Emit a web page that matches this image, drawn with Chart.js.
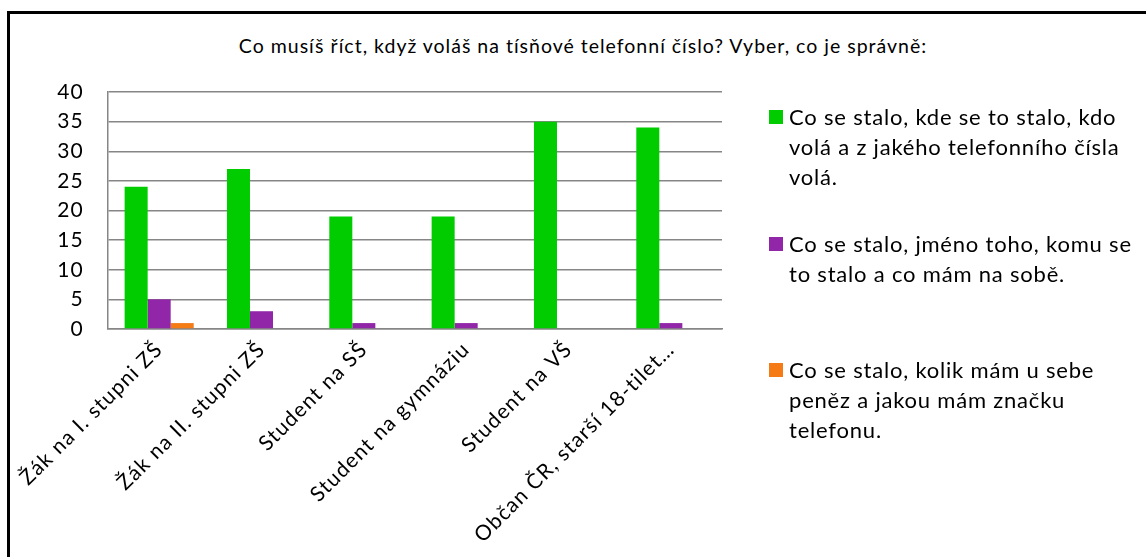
<!DOCTYPE html>
<html>
<head>
<meta charset="utf-8">
<script src="https://cdn.jsdelivr.net/npm/chart.js@4"></script>
<style>
  html, body { margin:0; padding:0; background:#fff; overflow:hidden; }
  #wrap { position:relative; width:1146px; height:557px; overflow:hidden; }
  #frame { position:absolute; left:7px; top:11px; width:1300px; height:700px; border:3px solid #000; box-sizing:border-box; }
  #title { position:absolute; left:0; width:1166px; top:34px; text-align:center; font-family:Lato, sans-serif; font-size:19.5px; letter-spacing:1px; color:#000; }
  #chartBox { position:absolute; left:0; top:0; width:1146px; height:557px; }
  #legend { position:absolute; left:769px; top:0; width:385px; font-family:Lato, sans-serif; font-size:22px; letter-spacing:0.8px; line-height:30px; color:#000; }
  .lg-item { position:absolute; left:0; width:365px; padding-left:20px; }
  .lg-box { position:absolute; left:0; top:8px; width:14px; height:14px; }
</style>
</head>
<body>
<div id="wrap">
  <div id="frame"></div>
  <div id="title">Co musíš říct, když voláš na tísňové telefonní číslo? Vyber, co je správně:</div>
  <div id="chartBox"><canvas id="chart"></canvas></div>
  <div id="legend"></div>
</div>
<script>
// ---- data ----
const categories = ['Žák na I. stupni ZŠ', 'Žák na II. stupni ZŠ', 'Student na SŠ', 'Student na gymnáziu', 'Student na VŠ', 'Občan ČR, starší 18-tilet…'];
const seriesNames = [
  'Co se stalo, kde se to stalo, kdo volá a z jakého telefonního čísla volá.',
  'Co se stalo, jméno toho, komu se to stalo a co mám na sobě.',
  'Co se stalo, kolik mám u sebe peněz a jakou mám značku telefonu.'
];
const correctAnswer = [24, 27, 19, 19, 35, 34];
const nameAndClothes = [5, 3, 1, 1, 0, 1];
const moneyAndPhone = [1, 0, 0, 0, 0, 0];
const yTicks = [0, 5, 10, 15, 20, 25, 30, 35, 40];

const colors = ['#00CC00', '#9126A8', '#F47B16'];
const legendTops = [102, 229, 355];

// popisky osy x jsou v originale dost roztazene
const spacing = {
  id: 'spacing',
  beforeDraw: c => { c.ctx.letterSpacing = '1.2px'; }
};

const ctx = document.getElementById('chart').getContext('2d');
const chart = new Chart(ctx, {
  type: 'bar',
  data: {
    labels: categories,
    datasets: [correctAnswer, nameAndClothes, moneyAndPhone].map((d, i) => ({
      label: seriesNames[i], data: d, backgroundColor: colors[i], borderWidth: 0,
      categoryPercentage: 0.675, barPercentage: 1
    }))
  },
  options: {
    responsive: true, maintainAspectRatio: false, animation: false,
    layout: { padding: { left: 40, right: 424, top: 92, bottom: 0 } },
    plugins: { legend: { display: false }, title: { display: false }, tooltip: { enabled: false } },
    scales: {
      x: {
        grid: { display: false, drawTicks: false },
        border: { display: true, color: '#868686', width: 1.5 },
        ticks: { autoSkip: false, minRotation: 45, maxRotation: 45, padding: 8,
                 color: '#000', font: { family: 'Lato', size: 21 } },
        afterFit: s => { s.height = 228; }
      },
      y: {
        min: 0, max: 40,
        afterBuildTicks: s => { s.ticks = yTicks.map(v => ({ value: v })); },
        grid: { color: '#868686', lineWidth: 1.5, drawTicks: false },
        border: { display: true, color: '#868686', width: 1.5 },
        ticks: { padding: 24, color: '#000', font: { family: 'Lato', size: 21 } },
        afterFit: s => { s.width = 68; }
      }
    }
  },
  plugins: [spacing]
});

// ---- legenda ----
document.getElementById('legend').innerHTML = seriesNames.map((name, i) =>
  `<div class="lg-item" style="top:${legendTops[i]}px"><span class="lg-box" style="background:${colors[i]}"></span>${name}</div>`
).join('');
</script>
</body>
</html>
